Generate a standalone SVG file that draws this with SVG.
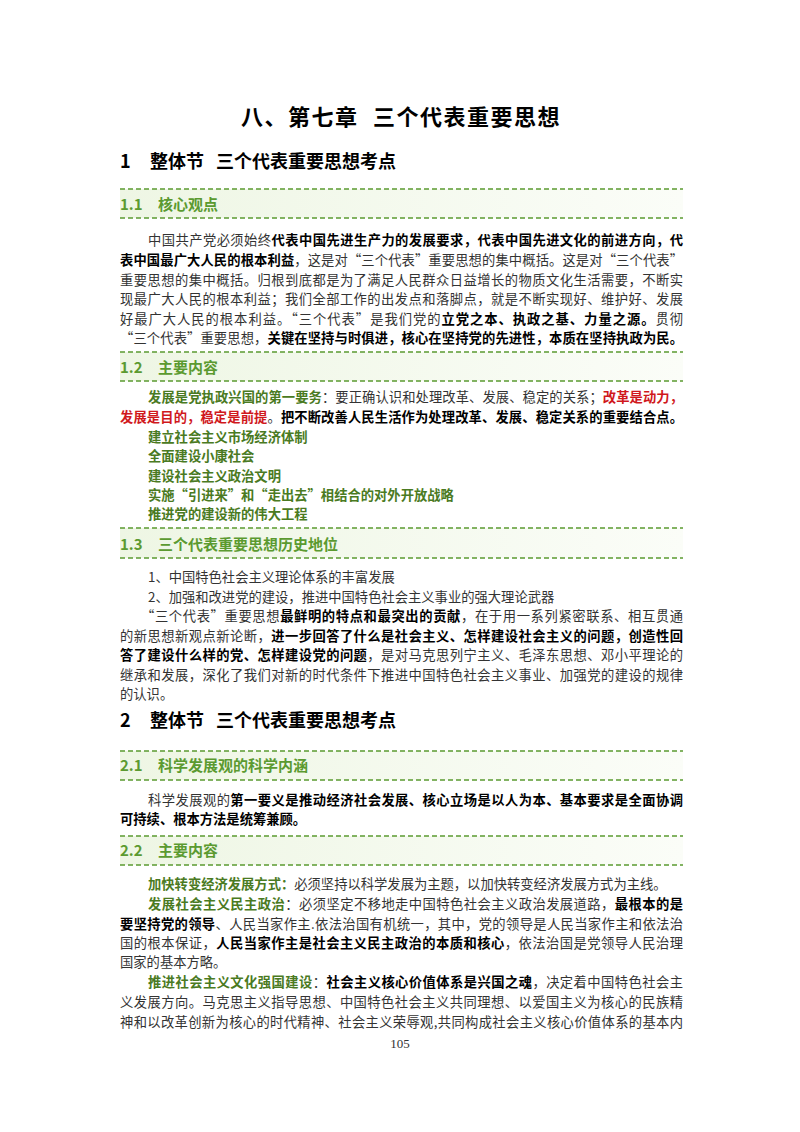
<svg xmlns="http://www.w3.org/2000/svg" width="800" height="1132" viewBox="0 0 800 1132">
<defs>
<linearGradient id="band" x1="0" x2="1" y1="0" y2="0"><stop offset="0" stop-color="#eef6e4"/><stop offset="1" stop-color="#fbfdf8"/></linearGradient>
</defs>
<style>
text{font-family:"Noto Sans CJK SC","Noto Sans",sans-serif;fill:#333;font-size:13.3px}
.t{font-size:22px;font-weight:bold;fill:#000;letter-spacing:1.5px}
.h{font-size:18px;font-weight:bold;fill:#000}
.s{font-size:15px;font-weight:bold;fill:#5b9a30}
.b{font-weight:bold;fill:#000}
.g{font-weight:bold;fill:#4a7a22}
.r{font-weight:bold;fill:#d0181c}
.d{stroke:#5b9a30;stroke-width:1.6;stroke-dasharray:5,3;fill:none}
.n{font-family:"Liberation Serif",serif;font-size:13px;fill:#333}
</style>
<rect width="800" height="1132" fill="#fff"/>
<text class="t" y="125"><tspan x="241">八、第七章</tspan><tspan x="373">三个代表重要思想</tspan></text>
<text class="h" y="168"><tspan x="120">1</tspan><tspan x="150">整体节</tspan><tspan x="216">三个代表重要思想考点</tspan></text>

<g id="s11">
<rect x="120" y="189" width="563" height="29" fill="url(#band)"/>
<path class="d" d="M120 189H683M120 218H683"/>
<text class="s" y="210"><tspan x="120">1.1</tspan><tspan x="158">核心观点</tspan></text>
</g>
<text x="148" y="245" textLength="535" lengthAdjust="spacing">中国共产党必须始终<tspan class="b">代表中国先进生产力的发展要求，代表中国先进文化的前进方向，代</tspan></text>
<text x="120" y="265" textLength="563" lengthAdjust="spacing"><tspan class="b">表中国最广大人民的根本利益</tspan>，这是对“三个代表”重要思想的集中概括。这是对“三个代表”</text>
<text x="120" y="285" textLength="563" lengthAdjust="spacing">重要思想的集中概括。归根到底都是为了满足人民群众日益增长的物质文化生活需要，不断实</text>
<text x="120" y="304" textLength="563" lengthAdjust="spacing">现最广大人民的根本利益；我们全部工作的出发点和落脚点，就是不断实现好、维护好、发展</text>
<text x="120" y="324" textLength="563" lengthAdjust="spacing">好最广大人民的根本利益。“三个代表”是我们党的<tspan class="b">立党之本、执政之基、力量之源。</tspan>贯彻</text>
<text x="120" y="343" textLength="563" lengthAdjust="spacing">“三个代表”重要思想，<tspan class="b">关键在坚持与时俱进，核心在坚持党的先进性，本质在坚持执政为民。</tspan></text>

<g id="s12">
<rect x="120" y="352" width="563" height="29" fill="url(#band)"/>
<path class="d" d="M120 352H683M120 381H683"/>
<text class="s" y="373"><tspan x="120">1.2</tspan><tspan x="158">主要内容</tspan></text>
</g>
<text x="148" y="402" textLength="535" lengthAdjust="spacing"><tspan class="g">发展是党执政兴国的第一要务</tspan>：要正确认识和处理改革、发展、稳定的关系；<tspan class="r">改革是动力，</tspan></text>
<text x="120" y="422" textLength="563" lengthAdjust="spacing"><tspan class="r">发展是目的，稳定是前提</tspan>。<tspan class="b">把不断改善人民生活作为处理改革、发展、稳定关系的重要结合点。</tspan></text>
<text class="g" x="148" y="442">建立社会主义市场经济体制</text>
<text class="g" x="148" y="461">全面建设小康社会</text>
<text class="g" x="148" y="481">建设社会主义政治文明</text>
<text class="g" x="148" y="500">实施“引进来”和“走出去”相结合的对外开放战略</text>
<text class="g" x="148" y="519">推进党的建设新的伟大工程</text>

<g id="s13">
<rect x="120" y="528" width="563" height="30" fill="url(#band)"/>
<path class="d" d="M120 528H683M120 558H683"/>
<text class="s" y="550"><tspan x="120">1.3</tspan><tspan x="158">三个代表重要思想历史地位</tspan></text>
</g>
<text x="148" y="582">1、中国特色社会主义理论体系的丰富发展</text>
<text x="148" y="602">2、加强和改进党的建设，推进中国特色社会主义事业的强大理论武器</text>
<text x="141" y="621" textLength="542" lengthAdjust="spacing">“三个代表”重要思想<tspan class="b">最鲜明的特点和最突出的贡献</tspan>，在于用一系列紧密联系、相互贯通</text>
<text x="120" y="641" textLength="563" lengthAdjust="spacing">的新思想新观点新论断，<tspan class="b">进一步回答了什么是社会主义、怎样建设社会主义的问题，创造性回</tspan></text>
<text x="120" y="660" textLength="563" lengthAdjust="spacing"><tspan class="b">答了建设什么样的党、怎样建设党的问题</tspan>，是对马克思列宁主义、毛泽东思想、邓小平理论的</text>
<text x="120" y="680" textLength="563" lengthAdjust="spacing">继承和发展，深化了我们对新的时代条件下推进中国特色社会主义事业、加强党的建设的规律</text>
<text x="120" y="699">的认识。</text>

<text class="h" y="727"><tspan x="120">2</tspan><tspan x="150">整体节</tspan><tspan x="216">三个代表重要思想考点</tspan></text>

<g id="s21">
<rect x="120" y="751" width="563" height="29" fill="url(#band)"/>
<path class="d" d="M120 751H683M120 780H683"/>
<text class="s" y="771"><tspan x="120">2.1</tspan><tspan x="158">科学发展观的科学内涵</tspan></text>
</g>
<text x="148" y="805" textLength="535" lengthAdjust="spacing">科学发展观的<tspan class="b">第一要义是推动经济社会发展、核心立场是以人为本、基本要求是全面协调</tspan></text>
<text class="b" x="120" y="824">可持续、根本方法是统筹兼顾。</text>

<g id="s22">
<rect x="120" y="836" width="563" height="29" fill="url(#band)"/>
<path class="d" d="M120 836H683M120 865H683"/>
<text class="s" y="856"><tspan x="120">2.2</tspan><tspan x="158">主要内容</tspan></text>
</g>
<text x="148" y="889"><tspan class="g">加快转变经济发展方式：</tspan>必须坚持以科学发展为主题，以加快转变经济发展方式为主线。</text>
<text x="148" y="909" textLength="535" lengthAdjust="spacing"><tspan class="g">发展社会主义民主政治</tspan>：必须坚定不移地走中国特色社会主义政治发展道路，<tspan class="b">最根本的是</tspan></text>
<text x="120" y="929" textLength="563" lengthAdjust="spacing"><tspan class="b">要坚持党的领导</tspan>、人民当家作主.依法治国有机统一，其中，党的领导是人民当家作主和依法治</text>
<text x="120" y="948" textLength="563" lengthAdjust="spacing">国的根本保证，<tspan class="b">人民当家作主是社会主义民主政治的本质和核心</tspan>，依法治国是党领导人民治理</text>
<text x="120" y="967">国家的基本方略。</text>
<text x="148" y="987" textLength="535" lengthAdjust="spacing"><tspan class="g">推进社会主义文化强国建设</tspan>：<tspan class="b">社会主义核心价值体系是兴国之魂</tspan>，决定着中国特色社会主</text>
<text x="120" y="1007" textLength="563" lengthAdjust="spacing">义发展方向。马克思主义指导思想、中国特色社会主义共同理想、以爱国主义为核心的民族精</text>
<text x="120" y="1027" textLength="563" lengthAdjust="spacing">神和以改革创新为核心的时代精神、社会主义荣辱观,共同构成社会主义核心价值体系的基本内</text>
<text class="n" x="400" y="1048" text-anchor="middle">105</text>
</svg>
